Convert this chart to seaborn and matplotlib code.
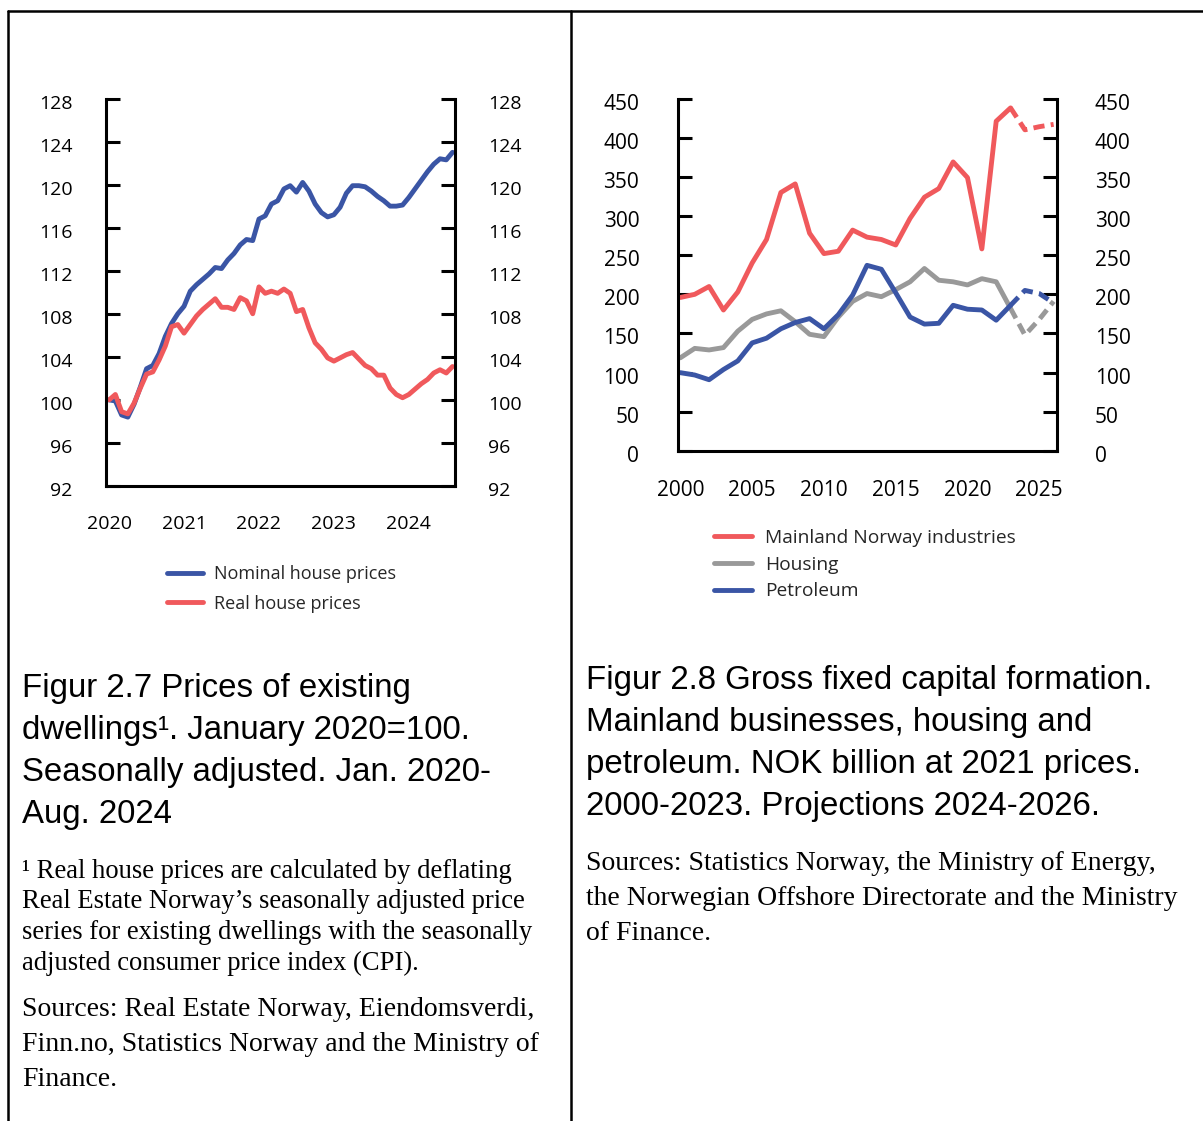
# Two panel chart: house prices (fig 2.7) and gross fixed capital formation (fig 2.8)
import numpy as np
import pandas as pd
import matplotlib
matplotlib.use('Agg')
import matplotlib.pyplot as plt
from matplotlib.lines import Line2D
from matplotlib.transforms import ScaledTranslation
import seaborn as sns

# Figur 2.7 - monthly index, Jan 2020 - Aug 2024, Jan 2020 = 100
nominal = [100.0, 99.9, 98.6, 98.4, 99.6, 101.2, 102.9, 103.2, 104.3, 105.9,
           107.1, 108.0, 108.7, 110.1, 110.7, 111.2, 111.7, 112.3, 112.2, 113.0,
           113.6, 114.4, 114.9, 114.8, 116.8, 117.1, 118.2, 118.5, 119.6, 119.9,
           119.3, 120.2, 119.4, 118.2, 117.4, 117.0, 117.2, 117.9, 119.2, 119.9,
           119.9, 119.8, 119.4, 118.9, 118.5, 118.0, 118.0, 118.1, 118.8, 119.6,
           120.4, 121.2, 121.9, 122.4, 122.3, 123.0]
real = [100.0, 100.5, 98.9, 98.7, 99.7, 101.1, 102.4, 102.6, 103.7, 105.0,
        106.8, 107.0, 106.2, 107.0, 107.8, 108.4, 108.9, 109.4, 108.6, 108.6,
        108.4, 109.5, 109.2, 108.0, 110.5, 109.9, 110.1, 109.9, 110.3, 109.9,
        108.2, 108.4, 106.7, 105.3, 104.7, 103.9, 103.6, 103.9, 104.2, 104.4,
        103.8, 103.2, 102.9, 102.3, 102.3, 101.1, 100.5, 100.2, 100.5, 101.0,
        101.5, 101.9, 102.5, 102.8, 102.5, 103.1]
price_years = ['2020', '2021', '2022', '2023', '2024']

# Figur 2.8 - NOK billion at 2021 prices, projections from 2024
years = list(range(2000, 2027))
mainland = [196, 200, 210, 180, 203, 240, 270, 330, 341, 278, 252, 255, 282, 273,
            270, 263, 297, 324, 335, 369, 349, 258, 421, 438, 410, 414, 417]
housing = [119, 131, 129, 132, 153, 168, 175, 179, 165, 149, 146, 171, 191, 201,
           197, 206, 216, 233, 218, 216, 212, 220, 216, 182, 148, 168, 191]
petroleum = [100, 97, 91, 104, 115, 138, 144, 156, 164, 169, 156, 174, 199, 237,
             232, 202, 171, 162, 163, 186, 181, 180, 167, 186, 205, 201, 189]
last_actual = 2023

BLUE = '#3a55a5'
RED = '#f0595c'
GREY = '#999999'
LW = 3.5

sns.set_theme(style='white')
plt.rcParams['font.family'] = ['Open Sans', 'DejaVu Sans']

W, H = 1203, 1121
fig = plt.figure(figsize=(W / 100, H / 100), dpi=100)


def px_axes(x0, y0, x1, y1):
    return fig.add_axes([x0 / W, 1 - y1 / H, (x1 - x0) / W, (y1 - y0) / H])


def style_axis(ax, fs, ypad, xpad):
    for s in ['left', 'right', 'bottom']:
        ax.spines[s].set_visible(True)
        ax.spines[s].set_color('black')
        ax.spines[s].set_linewidth(2.2)
    ax.spines['top'].set_visible(False)
    ax.tick_params(axis='y', direction='in', left=True, right=True,
                   labelleft=True, labelright=True, length=10, width=2.2,
                   pad=ypad, labelsize=fs, colors='black')
    ax.tick_params(axis='x', length=0, pad=xpad, labelsize=fs, colors='black')
    ax.grid(False)
    ax.set_xlabel('')
    ax.set_ylabel('')
    # value labels sit a little below their tick marks in the original
    shift = ScaledTranslation(0, -3 / 100, fig.dpi_scale_trans)
    for t in ax.yaxis.get_major_ticks():
        t.label1.set_transform(t.label1.get_transform() + shift)
        t.label2.set_transform(t.label2.get_transform() + shift)


# ---- left panel ----
prices = pd.DataFrame({'month': np.arange(len(nominal)), 'nominal': nominal, 'real': real})
ax1 = px_axes(106, 98.5, 455, 486)
sns.lineplot(data=prices, x='month', y='nominal', ax=ax1, color=BLUE, linewidth=LW,
             label='Nominal house prices')
sns.lineplot(data=prices, x='month', y='real', ax=ax1, color=RED, linewidth=LW,
             label='Real house prices')
ax1.set_xlim(-0.5, 55.4)
ax1.set_ylim(92, 128)
ax1.set_yticks(range(92, 129, 4))
ax1.set_xticks(range(0, 12 * len(price_years), 12))
ax1.set_xticklabels(price_years)
style_axis(ax1, 14, 24, 21)
ax1.legend(loc='upper left', bbox_to_anchor=(167 / W, 1 - 565 / H),
           bbox_transform=fig.transFigure, frameon=False, fontsize=13,
           handlelength=2.0, handletextpad=0.6, labelspacing=0.65,
           borderpad=0, borderaxespad=0)

# ---- right panel ----
gfcf = pd.DataFrame({'year': years, 'mainland': mainland, 'housing': housing,
                     'petroleum': petroleum})
hist = gfcf[gfcf['year'] <= last_actual]
proj = gfcf[gfcf['year'] >= last_actual]
ax2 = px_axes(677.5, 98.5, 1056.5, 451)
dash = (0, (2.3, 1.3))
for col, color, name in [('mainland', RED, 'Mainland Norway industries'),
                         ('housing', GREY, 'Housing'),
                         ('petroleum', BLUE, 'Petroleum')]:
    sns.lineplot(data=hist, x='year', y=col, ax=ax2, color=color, linewidth=LW, label=name)
    sns.lineplot(data=proj, x='year', y=col, ax=ax2, color=color, linewidth=LW,
                 linestyle=dash, label='_nolegend_')
ax2.set_xlim(1999.8, 2026.2)
ax2.set_ylim(0, 450)
ax2.set_yticks(range(0, 451, 50))
ax2.set_xticks(range(2000, 2026, 5))
style_axis(ax2, 15, 27.5, 21)
ax2.legend(loc='upper left', bbox_to_anchor=(714 / W, 1 - 529 / H),
           bbox_transform=fig.transFigure, frameon=False, fontsize=13.8,
           handlelength=2.0, handletextpad=0.65, labelspacing=0.45,
           borderpad=0, borderaxespad=0)

# ---- captions and notes ----
sans = ['Liberation Sans', 'DejaVu Sans']
serif = ['Liberation Serif', 'DejaVu Serif']


def put_lines(x, baselines, lines, size, family):
    for yb, txt in zip(baselines, lines):
        fig.text(x / W, 1 - yb / H, txt, fontsize=size, family=family,
                 color='black', va='baseline', ha='left')


put_lines(22, [697, 739, 781, 823],
          ['Figur 2.7 Prices of existing',
           'dwellings\u00b9. January 2020=100.',
           'Seasonally adjusted. Jan. 2020-',
           'Aug. 2024'], 23.8, sans)
put_lines(22, [878, 908, 939, 970],
          ['\u00b9 Real house prices are calculated by deflating',
           'Real Estate Norway\u2019s seasonally adjusted price',
           'series for existing dwellings with the seasonally',
           'adjusted consumer price index (CPI).'], 19.2, serif)
put_lines(22, [1016, 1051, 1086],
          ['Sources: Real Estate Norway, Eiendomsverdi,',
           'Finn.no, Statistics Norway and the Ministry of',
           'Finance.'], 20, serif)
put_lines(586, [689, 731, 773, 815],
          ['Figur 2.8 Gross fixed capital formation.',
           'Mainland businesses, housing and',
           'petroleum. NOK billion at 2021 prices.',
           '2000-2023. Projections 2024-2026.'], 23.8, sans)
put_lines(586, [870, 905, 940],
          ['Sources: Statistics Norway, the Ministry of Energy,',
           'the Norwegian Offshore Directorate and the Ministry',
           'of Finance.'], 20, serif)

# table borders
for xs, ys in [([8, W], [11, 11]), ([8, 8], [11, H]), ([571, 571], [11, H])]:
    fig.add_artist(Line2D([x / W for x in xs], [1 - y / H for y in ys],
                          transform=fig.transFigure, color='black', linewidth=1.8))

fig.savefig('out.png', dpi=100)
